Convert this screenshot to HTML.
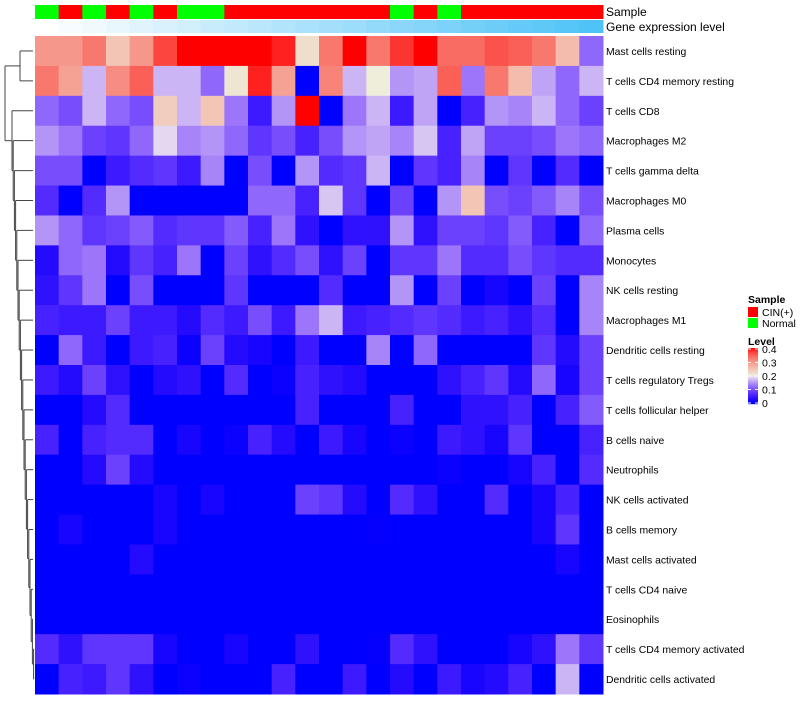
<!DOCTYPE html>
<html><head><meta charset="utf-8"><style>
body{margin:0;background:#fff;}
svg text{font-family:"Liberation Sans",sans-serif;}
</style></head><body>
<svg id="chart" width="800" height="700" xmlns="http://www.w3.org/2000/svg">
<g id="dendro" stroke="#444" stroke-width="1" fill="none"></g>
<g id="cells"></g>
<g id="annot"></g>
<g id="labels" font-size="10.4" fill="#000"></g>
<g id="legend"></g>
</svg>
<script>
const rowNames=["Mast cells resting","T cells CD4 memory resting","T cells CD8","Macrophages M2","T cells gamma delta","Macrophages M0","Plasma cells","Monocytes","NK cells resting","Macrophages M1","Dendritic cells resting","T cells regulatory  Tregs","T cells follicular helper","B cells naive","Neutrophils","NK cells activated","B cells memory","Mast cells activated","T cells CD4 naive","Eosinophils","T cells CD4 memory activated","Dendritic cells activated"];
const sampleGroups=["N","C","N","C","N","C","N","N","C","C","C","C","C","C","C","N","C","N","C","C","C","C","C","C"];
const r1=[0.3,0.3,0.33,0.25,0.3,0.37,0.4,0.4,0.4,0.4,0.39,0.22,0.33,0.4,0.33,0.38,0.4,0.34,0.34,0.36,0.35,0.33,0.26,0.12];
const r2=[0.33,0.29,0.17,0.31,0.35,0.17,0.17,0.12,0.21,0.39,0.29,0,0.32,0.17,0.2,0.15,0.16,0.35,0.13,0.33,0.26,0.16,0.12,0.17];
const r3=[0.12,0.1,0.17,0.12,0.1,0.24,0.17,0.25,0.13,0.05,0.15,0.4,0,0.13,0.17,0.05,0.16,0,0.06,0.15,0.14,0.17,0.12,0.09];
const r4=[0.15,0.13,0.09,0.08,0.12,0.19,0.14,0.15,0.12,0.08,0.1,0.06,0.1,0.15,0.16,0.14,0.18,0.06,0.16,0.09,0.09,0.1,0.13,0.12];
const r5=[0.1,0.1,0,0.05,0.07,0.08,0.05,0.14,0,0.1,0,0.15,0.07,0.08,0.17,0,0.08,0.06,0.14,0,0.08,0,0.07,0];
const r6=[0.07,0,0.07,0.15,0,0,0,0,0,0.12,0.12,0.06,0.18,0.08,0,0.09,0,0.15,0.25,0.1,0.09,0.11,0.14,0.1];
const r7=[0.15,0.12,0.08,0.09,0.11,0.07,0.08,0.08,0.11,0.06,0.13,0.04,0,0.04,0.04,0.15,0.04,0.09,0.09,0.08,0.11,0.06,0,0.12];
const r8=[0.03,0.12,0.13,0.03,0.08,0.06,0.13,0,0.09,0.04,0.07,0.1,0.04,0.09,0,0.08,0.08,0.13,0.07,0.07,0.1,0.08,0.07,0.07];
const r9=[0.04,0.08,0.13,0,0.1,0,0,0,0.08,0,0,0,0.07,0,0,0.15,0,0.09,0,0.02,0,0.09,0,0.14];
const r10=[0.06,0.05,0.05,0.09,0.05,0.05,0.03,0.07,0.05,0.1,0.05,0.13,0.17,0.05,0.06,0.07,0.08,0.07,0.05,0.06,0.04,0.07,0,0.14];
const r11=[0,0.12,0.05,0,0.05,0.06,0.01,0.09,0.03,0.02,0,0.05,0,0,0.14,0,0.12,0,0,0,0,0.08,0.03,0.09];
const r12=[0.05,0.03,0.09,0.04,0,0.03,0.04,0,0.07,0,0.01,0.06,0.04,0.03,0,0,0,0.04,0.06,0.08,0.03,0.12,0.02,0.09];
const r13=[0,0,0.03,0.07,0,0,0,0,0,0,0,0.06,0,0,0,0.06,0,0,0.04,0.04,0.06,0,0.06,0.11];
const r14=[0.06,0,0.06,0.07,0.07,0,0.02,0,0.01,0.06,0.03,0,0.05,0.02,0,0.01,0,0.05,0.04,0.02,0.08,0,0,0.06];
const r15=[0,0,0.03,0.09,0.03,0,0,0,0,0,0,0,0,0,0,0,0,0.01,0,0,0.02,0.06,0,0.07];
const r16=[0,0,0,0,0,0.02,0,0.02,0,0,0,0.09,0.08,0.03,0,0.07,0.04,0,0,0.07,0,0.02,0.06,0];
const r17=[0,0.02,0,0,0,0.02,0,0,0,0,0,0,0,0,0.005,0,0,0,0,0,0,0.02,0.08,0];
const r18=[0,0,0,0,0.03,0,0,0,0,0,0,0,0,0,0,0,0,0,0,0,0,0,0.02,0];
const r19=[0,0,0,0,0,0,0,0,0,0,0,0,0,0,0,0,0,0,0,0,0,0,0,0];
const r20=[0,0,0,0,0,0,0,0,0,0,0,0,0,0,0,0,0,0,0,0,0,0,0,0];
const r21=[0.07,0.04,0.08,0.08,0.08,0.02,0,0,0.02,0,0,0.04,0,0,0.005,0.07,0.04,0,0,0,0.02,0.04,0.13,0.08];
const r22=[0,0.06,0.05,0.08,0.04,0,0.01,0,0,0,0.06,0,0,0.05,0,0.03,0,0.05,0.02,0.03,0.06,0,0.17,0];
const values=[r1,r2,r3,r4,r5,r6,r7,r8,r9,r10,r11,r12,r13,r14,r15,r16,r17,r18,r19,r20,r21,r22];
const levelTicks=["0.4","0.3","0.2","0.1","0"];

const NS="http://www.w3.org/2000/svg";
const X0=35,X1=603,Y0=36,Y1=694;
const nC=sampleGroups.length,nR=rowNames.length;
const cw=(X1-X0)/nC,rh=(Y1-Y0)/nR;
const xS=i=>X0+i*cw, yS=j=>Y0+j*rh;
function color(v){
  const t=Math.max(0,Math.min(1,v/0.4));
  let r,g,b;
  if(t<0.5){const s=t/0.5;r=240*s;g=235*Math.pow(s,1.6);b=255-17*Math.pow(s,3);}
  else{const s=(t-0.5)/0.5;r=238+17*s;g=238*Math.pow(1-s,0.65);b=g*0.92;}
  return `rgb(${r|0},${g|0},${b|0})`;
}
function mk(tag,attrs,parent){const e=document.createElementNS(NS,tag);for(const k in attrs)e.setAttribute(k,attrs[k]);parent.appendChild(e);return e;}
const cells=document.getElementById('cells');
values.forEach((row,j)=>row.forEach((v,i)=>{
  const r=mk('rect',{x:xS(i),y:yS(j),width:cw+0.5,height:rh+0.5,fill:color(v)},cells);
  
  
}));
const annot=document.getElementById('annot');
sampleGroups.forEach((g,i)=>{
  const r=mk('rect',{x:xS(i),y:5,width:cw+0.5,height:14,fill:g==="C"?"#ff0000":"#00ff00"},annot);
  
  
  const t=i/(nC-1);
  const gc=`rgb(${(255-176*t)|0},${(255-60*t)|0},${(255-8*t)|0})`;
  const q=mk('rect',{x:xS(i),y:20,width:cw+0.5,height:13,fill:gc},annot);
  
  
});
let t1=mk('text',{x:606,y:16,'font-size':12},annot);t1.textContent="Sample";


let t2=mk('text',{x:606,y:31,'font-size':12},annot);t2.textContent="Gene expression level";


const labels=document.getElementById('labels');
rowNames.forEach((n,j)=>{
  const t=mk('text',{x:606,y:yS(j)+rh/2+4},labels);t.textContent=n;
  
  
});
const d=document.getElementById('dendro');
const cy=j=>yS(j)+rh/2;
function seg(x1,y1,x2,y2){mk('line',{x1,y1,x2,y2},d);}
seg(20,cy(0),33,cy(0));seg(20,cy(1),33,cy(1));seg(20,cy(0),20,cy(1));
const midTop=(cy(0)+cy(1))/2;
let prevX=33,prevY=cy(nR-1);
for(let j=nR-2;j>=2;j--){
  const x=8+(j-2)*1.2+4;
  seg(x,cy(j),33,cy(j));seg(x,prevY,prevX,prevY);seg(x,cy(j),x,prevY);
  prevY=(cy(j)+prevY)/2;prevX=x;
}
seg(5,midTop,20,midTop);seg(5,prevY,prevX,prevY);seg(5,midTop,5,prevY);
const lg=document.getElementById('legend');
let s=mk('text',{x:748,y:303,'font-size':10.5,'font-weight':'bold'},lg);s.textContent="Sample";

[["#ff0000","CIN(+)"],["#00ff00","Normal"]].forEach((e,k)=>{
  const r=mk('rect',{x:748,y:307+k*11,width:10,height:10,fill:e[0]},lg);
  
  const t=mk('text',{x:762,y:316+k*11,'font-size':10.5},lg);t.textContent=e[1];
  
});
let lv=mk('text',{x:748,y:345,'font-size':10.5,'font-weight':'bold'},lg);lv.textContent="Level";

for(let k=0;k<56;k++){
  const r=mk('rect',{x:748,y:348+k,width:10,height:1.2,fill:color(0.4*(1-k/55))},lg);
  
}
levelTicks.forEach((l,k)=>{
  const y=349+k*13.5;
  const t=mk('text',{x:762,y:y+4,'font-size':10.5},lg);t.textContent=l;
  
  mk('line',{x1:748,x2:751,y1:y,y2:y,stroke:'#fff'},lg);
  mk('line',{x1:755,x2:758,y1:y,y2:y,stroke:'#fff'},lg);
});
</script>
</body></html>
